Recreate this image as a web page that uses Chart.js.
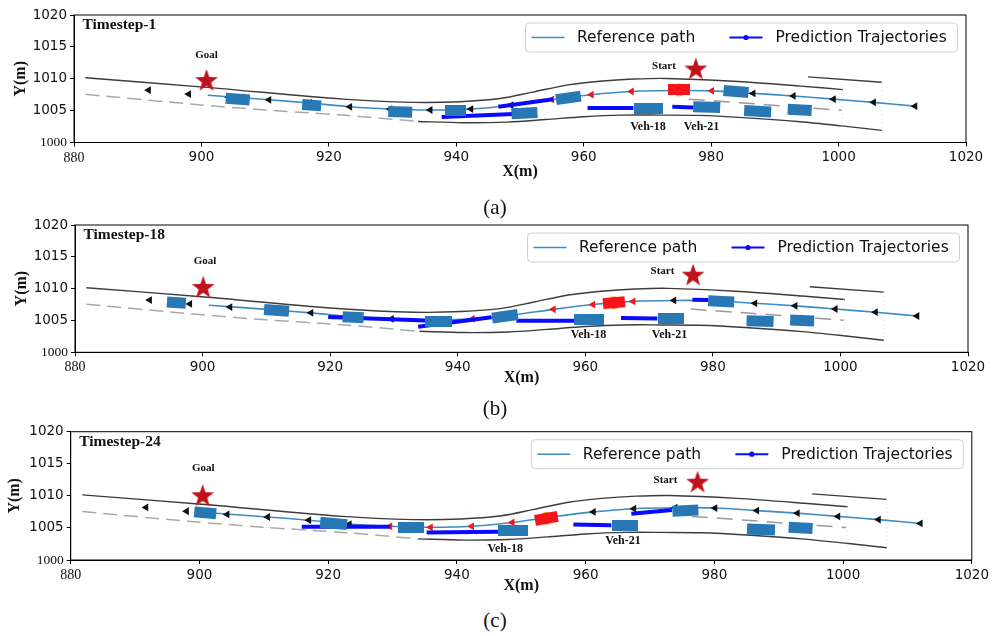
<!DOCTYPE html>
<html>
<head>
<meta charset="utf-8">
<script src="https://cdn.jsdelivr.net/npm/chart.js@4.4.0/dist/chart.umd.min.js"></script>
<style>
  html, body { margin: 0; padding: 0; background: #fff; }
  body { width: 992px; height: 636px; position: relative; overflow: hidden; }
  canvas { position: absolute; left: 0; }
  .cap { position: absolute; width: 80px; margin-left: -40px; text-align: center;
         font-family: 'Liberation Serif', serif; font-size: 21px; line-height: 24px; color: #111; }
</style>
</head>
<body>
<canvas id="plotA" width="992" height="190" style="top:0"></canvas>
<canvas id="plotB" width="992" height="190" style="top:205px"></canvas>
<canvas id="plotC" width="992" height="190" style="top:415px"></canvas>
<div class="cap" style="left:495px; top:195px">(a)</div>
<div class="cap" style="left:495px; top:396px">(b)</div>
<div class="cap" style="left:495px; top:608px">(c)</div>
<script>
const X_MIN = 880, X_MAX = 1020, Y_MIN = 1000, Y_MAX = 1020;

// road edges, same for every timestep
const upperX = [881.8, 900.8, 922.2, 933.2, 940.6, 946.9, 952, 957.3, 962.5, 967.8, 973, 983.5, 994, 1000.7];
const upperY = [1010.15, 1008.65, 1006.8, 1006.3, 1006.4, 1006.9, 1007.9, 1009.0, 1009.6, 1009.95, 1010.05, 1009.6, 1008.85, 1008.3];
const stubX = [995.2, 1006.8];
const stubY = [1010.3, 1009.45];
const lowerX = [934, 941, 948, 954, 960, 966, 972, 978, 985, 994, 1000.5, 1006.8];
const lowerY = [1003.3, 1003.1, 1003.2, 1003.6, 1004.05, 1004.3, 1004.3, 1004.25, 1003.9, 1003.25, 1002.6, 1001.9];
const edgeX = [881.8, 898.7, 910, 922.2, 934];
const edgeY = [1007.55, 1006.0, 1005.1, 1004.3, 1003.3];
const laneX = [976.5, 985, 993, 1000.5];
const laneY = [1006.8, 1006.2, 1005.6, 1005.05];
const endX = [1000.5, 1006.8];
const endTopY = [1008.3, 1009.45];
const endBotY = [1002.6, 1001.9];

// reference path and direction arrows along it
const pathX = [901, 910.6, 917, 923.3, 929.6, 935.9, 942.3, 948.6, 955, 961.2, 967.5, 973.9, 980.1, 986.6, 992.9, 999.2, 1005.5, 1012];
const pathY = [1007.4, 1006.7, 1006.2, 1005.6, 1005.25, 1005.1, 1005.25, 1005.85, 1006.75, 1007.5, 1008.0, 1008.15, 1008.1, 1007.7, 1007.3, 1006.8, 1006.3, 1005.7];
const arrowX = [891.7, 898.0, 904.3, 910.6, 917.0, 923.3, 929.6, 935.9, 942.3, 948.6, 955.0, 961.2, 967.5, 973.9, 980.1, 986.6, 992.9, 999.2, 1005.5, 1012.0];
const arrowY = [1008.2, 1007.6, 1007.1, 1006.7, 1006.2, 1005.6, 1005.25, 1005.1, 1005.25, 1005.85, 1006.75, 1007.5, 1008.0, 1008.15, 1008.1, 1007.7, 1007.3, 1006.8, 1006.3, 1005.7];

// timestep 1: [x, y, length, heading]
const carsA = [
  [905.7, 1006.8, 3.8, -4], [917.3, 1005.85, 3.0, -4], [931.2, 1004.8, 3.7, -2],
  [939.9, 1005.0, 3.3, 0], [950.7, 1004.6, 4.1, 3], [957.6, 1007.0, 3.9, 8],
  [970.1, 1005.4, 4.6, 0], [979.3, 1005.55, 4.2, -2], [983.9, 1008.0, 4.0, -5],
  [987.3, 1004.9, 4.2, -3], [993.9, 1005.1, 3.8, -3]
];
const egoA = [975.0, 1008.25, 0];
const goalA = [900.8, 1009.8];
const startA = [977.6, 1011.6];
const redArrowsA = [10, 11, 12, 13, 14];
const predA = [
  [[937.7, 1004.0], [950.0, 1004.5]],
  [[946.6, 1005.6], [955.2, 1006.8]],
  [[960.6, 1005.4], [967.8, 1005.4]],
  [[973.9, 1005.6], [977.2, 1005.5]]
];
const labelsA = [['Goal', 900.8, 1013.7], ['Start', 972.6, 1012.05], ['Veh-18', 970.1, 1002.5], ['Veh-21', 978.5, 1002.5]];

// timestep 18
const carsB = [
  [895.9, 1007.8, 3.0, -4], [911.6, 1006.6, 3.9, -4], [923.6, 1005.5, 3.3, -3],
  [937.0, 1004.8, 4.2, 0], [947.4, 1005.65, 4.0, 8], [960.6, 1005.2, 4.7, 0],
  [973.4, 1005.3, 4.1, 0], [981.3, 1008.0, 4.1, -3], [987.4, 1004.9, 4.3, -2],
  [994.0, 1005.0, 3.7, -2]
];
const egoB = [964.5, 1007.8, 5];
const goalB = [900.1, 1010.27];
const startB = [976.9, 1012.2];
const redArrowsB = [8, 9, 10, 11, 12];
const predB = [
  [[919.7, 1005.55], [935.0, 1005.0]],
  [[933.8, 1004.0], [945.3, 1005.5]],
  [[949.2, 1004.95], [960.6, 1004.95]],
  [[965.6, 1005.4], [971.3, 1005.3]],
  [[976.8, 1008.25], [979.3, 1008.2]]
];
const labelsB = [['Goal', 900.4, 1014.3], ['Start', 972.1, 1012.7], ['Veh-18', 960.5, 1002.8], ['Veh-21', 973.2, 1002.8]];

// timestep 24
const carsC = [
  [900.9, 1007.35, 3.4, -5], [920.85, 1005.7, 4.2, -5], [932.9, 1005.0, 4.0, 0],
  [948.75, 1004.65, 4.6, 0], [966.1, 1005.35, 4.1, 0], [975.5, 1007.7, 4.1, 3],
  [987.25, 1004.75, 4.3, -2], [993.4, 1005.0, 3.8, -3]
];
const egoC = [953.9, 1006.5, 10];
const goalC = [900.5, 1010.1];
const startC = [977.4, 1012.2];
const redArrowsC = [6, 7, 8, 9, 10];
const predC = [
  [[915.9, 1005.2], [929.6, 1005.2]],
  [[935.3, 1004.3], [946.4, 1004.4]],
  [[958.1, 1005.55], [964.0, 1005.4]],
  [[967.1, 1007.2], [973.4, 1007.8]]
];
const labelsC = [['Goal', 900.6, 1014.3], ['Start', 972.4, 1012.5], ['Veh-18', 947.5, 1001.7], ['Veh-21', 965.8, 1002.9]];

const CAR_BLUE = '#2878b6';
const EGO_RED = '#f5141a';
const PATH_BLUE = '#3d8cc4';
const PRED_BLUE = '#0a0aff';
const STAR_RED = '#c0121c';
const CAR_WIDTH = 1.75;

function pts(xs, ys) {
  return xs.map((x, i) => ({ x, y: ys[i] }));
}

function starImage(r, color) {
  const c = document.createElement('canvas');
  c.width = c.height = Math.ceil(r * 2 + 2);
  const g = c.getContext('2d');
  g.translate(c.width / 2, c.height / 2 + 1);
  g.beginPath();
  for (let i = 0; i < 10; i++) {
    const rad = i % 2 ? r * 0.4 : r;
    const a = -Math.PI / 2 + i * Math.PI / 5;
    g.lineTo(rad * Math.cos(a), rad * Math.sin(a));
  }
  g.closePath();
  g.fillStyle = color;
  g.fill();
  return c;
}
const STAR = starImage(12, STAR_RED);

// vehicle footprint sized in metres through the x scale
function vehicleImage(ctx, fill, width) {
  const raw = ctx.raw;
  if (!raw) return 'rect';
  const sx = ctx.chart.scales.x;
  const ppm = sx.width / (X_MAX - X_MIN);
  const c = document.createElement('canvas');
  c.width = Math.max(2, Math.round(raw.len * ppm));
  c.height = Math.max(2, Math.round(width * ppm));
  const g = c.getContext('2d');
  g.fillStyle = fill;
  g.fillRect(0, 0, c.width, c.height);
  return c;
}

function makePanel(id, p) {
  const sets = [];
  const line = (data, style) => sets.push(Object.assign({ data, showLine: true, pointRadius: 0, tension: 0.3 }, style));

  line(pts(edgeX, edgeY), { borderColor: '#a8a8a8', borderWidth: 1.5, borderDash: [14, 7] });
  line(pts(laneX, laneY), { borderColor: '#9a9a9a', borderWidth: 1.5, borderDash: [16, 9] });
  line(pts(upperX, upperY), { borderColor: '#3c3c3c', borderWidth: 1.4 });
  line(pts(lowerX, lowerY), { borderColor: '#3c3c3c', borderWidth: 1.4 });
  line(pts(stubX, stubY), { borderColor: '#3c3c3c', borderWidth: 1.4, tension: 0 });
  endX.forEach((x, i) => line([{ x, y: endTopY[i] }, { x, y: endBotY[i] }],
    { borderColor: '#cfcfcf', borderWidth: 1, borderDash: [1, 3], tension: 0 }));
  line(pts(pathX, pathY), { borderColor: PATH_BLUE, borderWidth: 1.6 });

  const blackArrows = [], redArrows = [];
  arrowX.forEach((x, i) => (p.red.includes(i) ? redArrows : blackArrows).push({ x, y: arrowY[i] }));
  const arrowStyle = { showLine: false, pointStyle: 'triangle', rotation: -90, pointRadius: 4.5, borderWidth: 0 };
  sets.push(Object.assign({ data: blackArrows, backgroundColor: '#111' }, arrowStyle));
  sets.push(Object.assign({ data: redArrows, backgroundColor: '#f01818' }, arrowStyle));

  p.pred.forEach(seg => line(seg.map(([x, y]) => ({ x, y })),
    { borderColor: PRED_BLUE, borderWidth: 4, tension: 0, borderCapStyle: 'butt' }));

  sets.push({
    data: p.cars.map(([x, y, len, hdg]) => ({ x, y, len, hdg })), showLine: false,
    pointRadius: 5, pointStyle: c => vehicleImage(c, CAR_BLUE, CAR_WIDTH),
    rotation: c => (c.raw ? -c.raw.hdg : 0)
  });
  sets.push({
    data: [{ x: p.ego[0], y: p.ego[1] }], showLine: false,
    pointStyle: 'circle', pointRadius: 6.5, backgroundColor: '#ffa330', borderWidth: 0
  });
  sets.push({
    data: [{ x: p.ego[0], y: p.ego[1], len: 3.5, hdg: p.ego[2] }], showLine: false,
    pointRadius: 5, pointStyle: c => vehicleImage(c, EGO_RED, 1.7),
    rotation: c => (c.raw ? -c.raw.hdg : 0)
  });
  sets.push({
    data: [{ x: p.goal[0], y: p.goal[1] }, { x: p.start[0], y: p.start[1] }], showLine: false,
    pointRadius: 5, pointStyle: STAR
  });

  // first dataset in the list ends up at the bottom
  sets.forEach((s, i) => { s.order = 100 - i; s.clip = false; });

  const decorations = {
    id: 'decorations',
    afterDatasetsDraw(chart) {
      const { ctx, chartArea: a, scales: { x, y } } = chart;
      ctx.save();
      ctx.strokeStyle = '#000';
      ctx.lineWidth = 1;
      ctx.strokeRect(a.left, a.top, a.right - a.left, a.bottom - a.top);

      ctx.fillStyle = '#111';
      ctx.textBaseline = 'middle';
      ctx.textAlign = 'left';
      ctx.font = 'bold 15.5px "Liberation Serif"';
      ctx.fillText(p.title, a.left + 8.5, a.top + 10);

      ctx.textAlign = 'center';
      p.labels.forEach(([text, lx, ly]) => {
        ctx.font = `bold ${text.startsWith('Veh') ? 12 : 11}px "Liberation Serif"`;
        ctx.fillText(text, x.getPixelForValue(lx), y.getPixelForValue(ly));
      });

      // legend box in the upper right corner
      const bw = 432, bh = 29;
      const bx = a.right - 8.5 - bw, by = a.top + 8;
      ctx.beginPath();
      ctx.roundRect(bx, by, bw, bh, 4);
      ctx.fillStyle = 'rgba(255,255,255,0.85)';
      ctx.fill();
      ctx.strokeStyle = '#d0d0d0';
      ctx.stroke();
      const cy = by + bh / 2;
      ctx.lineWidth = 1.6;
      ctx.strokeStyle = PATH_BLUE;
      ctx.beginPath(); ctx.moveTo(bx + 6, cy); ctx.lineTo(bx + 39, cy); ctx.stroke();
      ctx.lineWidth = 2;
      ctx.strokeStyle = PRED_BLUE;
      ctx.beginPath(); ctx.moveTo(bx + 204, cy); ctx.lineTo(bx + 237, cy); ctx.stroke();
      ctx.fillStyle = PRED_BLUE;
      ctx.beginPath(); ctx.arc(bx + 220.5, cy, 2.6, 0, Math.PI * 2); ctx.fill();
      ctx.fillStyle = '#111';
      ctx.textAlign = 'left';
      ctx.font = '15.5px "DejaVu Sans"';
      ctx.fillText('Reference path', bx + 51.5, cy + 0.5);
      ctx.fillText('Prediction Trajectories', bx + 250, cy + 0.5);
      ctx.restore();
    }
  };

  const serif = (size) => ({ family: 'Liberation Serif', size });
  const sans = { family: 'DejaVu Sans', size: 13.5 };
  const axisTitleFont = { family: 'Liberation Serif', size: 16, weight: 'bold' };

  return new Chart(document.getElementById(id), {
    type: 'scatter',
    data: { datasets: sets },
    options: {
      responsive: false,
      animation: false,
      events: [],
      layout: { padding: { left: 0, top: p.top, right: 992 - p.right, bottom: 0 } },
      plugins: { legend: { display: false }, tooltip: { enabled: false } },
      scales: {
        x: {
          type: 'linear', min: X_MIN, max: X_MAX,
          afterFit: s => { s.height = 190 - p.bottom; },
          grid: { drawOnChartArea: false, tickLength: 4, color: '#000' },
          border: { color: '#000', width: 1 },
          ticks: {
            stepSize: 20, padding: 3, color: '#111', maxRotation: 0, autoSkip: false,
            callback: v => String(v),
            font: c => (c.tick && c.tick.value === X_MIN ? serif(14) : sans)
          },
          title: { display: true, text: 'X(m)', color: '#111', font: axisTitleFont, padding: { top: 0, bottom: p.xPad } }
        },
        y: {
          type: 'linear', min: Y_MIN, max: Y_MAX,
          afterFit: s => { s.width = p.left; },
          grid: { drawOnChartArea: false, tickLength: 4, color: '#000' },
          border: { color: '#000', width: 1 },
          ticks: {
            stepSize: 5, padding: 3, color: '#111',
            callback: v => String(v),
            font: c => (c.tick && c.tick.value === Y_MIN ? serif(13.5) : sans)
          },
          title: { display: true, text: 'Y(m)', color: '#111', font: axisTitleFont, padding: { top: p.yPad, bottom: 0 } }
        }
      }
    },
    plugins: [decorations]
  });
}

makePanel('plotA', { title: 'Timestep-1', left: 74, right: 966, top: 15, bottom: 142.5, xPad: 8.4, yPad: 11.4,
  cars: carsA, ego: egoA, goal: goalA, start: startA, red: redArrowsA, pred: predA, labels: labelsA });
makePanel('plotB', { title: 'Timestep-18', left: 75, right: 968, top: 20, bottom: 147.3, xPad: 7.4, yPad: 12.1,
  cars: carsB, ego: egoB, goal: goalB, start: startB, red: redArrowsB, pred: predB, labels: labelsB });
makePanel('plotC', { title: 'Timestep-24', left: 70.7, right: 972, top: 16.7, bottom: 145, xPad: 9.7, yPad: 5.4,
  cars: carsC, ego: egoC, goal: goalC, start: startC, red: redArrowsC, pred: predC, labels: labelsC });
</script>
</body>
</html>
